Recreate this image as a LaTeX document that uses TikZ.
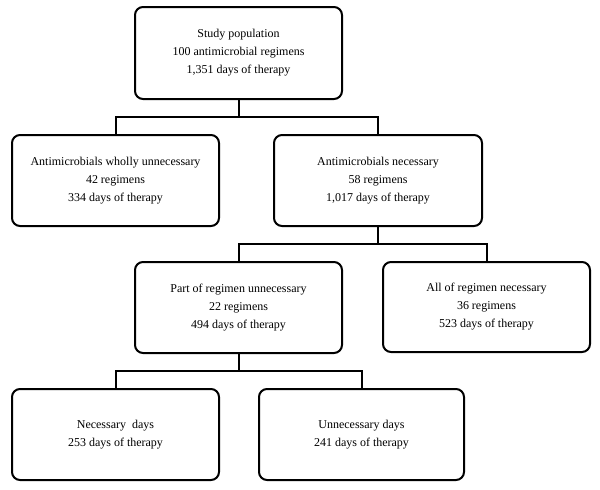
\documentclass[tikz,border=0pt]{standalone}
\usepackage{fontspec}
\setmainfont{Liberation Serif}
\begin{document}
\begin{tikzpicture}[x=1pt,y=-1pt,
  box/.style={draw, line width=2pt, rounded corners=8pt, align=center,
    inner sep=0pt, font=\fontsize{12}{18}\selectfont},
  conn/.style={line width=2pt}]
\useasboundingbox (0,0) rectangle (600,490);
\node[box, minimum width=207pt, minimum height=92pt] (top) at (238.5,53)
  {Study population\\100 antimicrobial regimens\\1,351 days of therapy};
\node[box, minimum width=207pt, minimum height=91pt] (wholly) at (115.5,180.5)
  {Antimicrobials wholly unnecessary\\42 regimens\\334 days of therapy};
\node[box, minimum width=208pt, minimum height=91pt] (nec) at (378,180.5)
  {Antimicrobials necessary\\58 regimens\\1,017 days of therapy};
\node[box, minimum width=207pt, minimum height=91pt] (part) at (238.5,307.5)
  {Part of regimen unnecessary\\22 regimens\\494 days of therapy};
\node[box, minimum width=207pt, minimum height=90pt] (all) at (486.5,307)
  {All of regimen necessary\\36 regimens\\523 days of therapy};
\node[box, minimum width=207pt, minimum height=91pt] (ndays) at (115.5,434.5)
  {Necessary\ \ days\\253 days of therapy};
\node[box, minimum width=205pt, minimum height=91pt] (udays) at (361.5,434.5)
  {Unnecessary days\\241 days of therapy};
\coordinate (j1) at (238.5,117);
\coordinate (j2) at (378,244);
\coordinate (j3) at (238.5,371);
\draw[conn] (top.south) -- (j1);
\draw[conn] (wholly.north) |- (j1) -| (nec.north);
\draw[conn] (nec.south) -- (j2);
\draw[conn] (part.north) |- (j2) -| (all.north);
\draw[conn] (part.south) -- (j3);
\draw[conn] (ndays.north) |- (j3) -| (udays.north);
\end{tikzpicture}
\end{document}
